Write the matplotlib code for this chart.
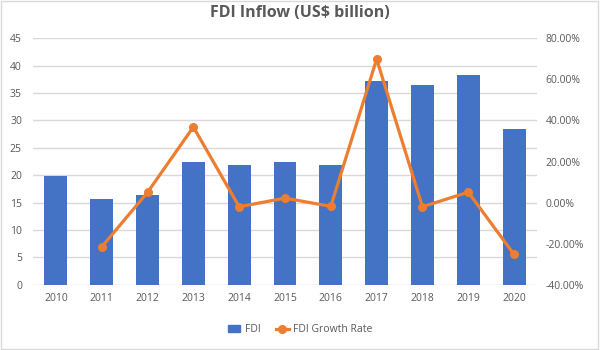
import numpy as np
import matplotlib
matplotlib.use('Agg')
import matplotlib.pyplot as plt
from matplotlib.ticker import FuncFormatter
from matplotlib.lines import Line2D
from matplotlib.patches import Patch, Rectangle

years = ['2010', '2011', '2012', '2013', '2014', '2015', '2016', '2017', '2018', '2019', '2020']
fdi = [19.9, 15.6, 16.4, 22.4, 21.9, 22.4, 21.9, 37.2, 36.4, 38.2, 28.5]
growth_years = years[1:]
growth = [-21.5, 5.0, 36.8, -2.0, 2.2, -1.8, 69.8, -2.0, 5.1, -25.2]

plt.rcParams['font.family'] = ['Open Sans', 'DejaVu Sans']
txt_col = '#595959'
bar_col = '#4472C4'
line_col = '#ED7D31'

fig = plt.figure(figsize=(6, 3.5), dpi=100)
ax = fig.add_axes([0.055, 0.186, 0.84, 0.705])

x = np.arange(len(years))
ax.bar(x, fdi, width=0.5, color=bar_col, zorder=3)
ax.set_xlim(-0.5, len(years) - 0.5)
ax.set_ylim(0, 45)
ax.set_yticks(np.arange(0, 46, 5))
ax.set_xticks(x)
ax.set_xticklabels(years)
ax.grid(axis='y', color='#D9D9D9', linewidth=1, zorder=0)
for s in ax.spines.values():
    s.set_visible(False)
ax.tick_params(axis='both', length=0, labelsize=7.5, colors=txt_col, pad=6)
ax.tick_params(axis='y', pad=8)

ax2 = ax.twinx()
gx = [years.index(y) for y in growth_years]
ax2.plot(gx, growth, color=line_col, linewidth=2.3, marker='o', markersize=5.5, zorder=5)
ax2.set_ylim(-40, 80)
ax2.set_yticks(np.arange(-40, 81, 20))
ax2.yaxis.set_major_formatter(FuncFormatter(lambda v, p: f'{v:.2f}%'))
for s in ax2.spines.values():
    s.set_visible(False)
ax2.tick_params(axis='y', length=0, labelsize=7.5, colors=txt_col, pad=6)

fig.text(0.5, 0.963, 'FDI Inflow (US$ billion)', ha='center', va='center',
         fontsize=11.5, fontweight='bold', color=txt_col)

handles = [Patch(color=bar_col, label='FDI'),
           Line2D([0], [0], color=line_col, linewidth=2.3, marker='o', markersize=5.5,
                  label='FDI Growth Rate')]
fig.legend(handles=handles, loc='center', bbox_to_anchor=(0.5, 0.058), ncol=2,
           frameon=False, fontsize=7.5, labelcolor=txt_col, handlelength=1.2,
           handletextpad=0.4, columnspacing=1.5)

fig.patches.append(Rectangle((0.002, 0.003), 0.995, 0.993, transform=fig.transFigure,
                             fill=False, edgecolor='#D9D9D9', linewidth=1))

fig.savefig('out.png', dpi=100)
